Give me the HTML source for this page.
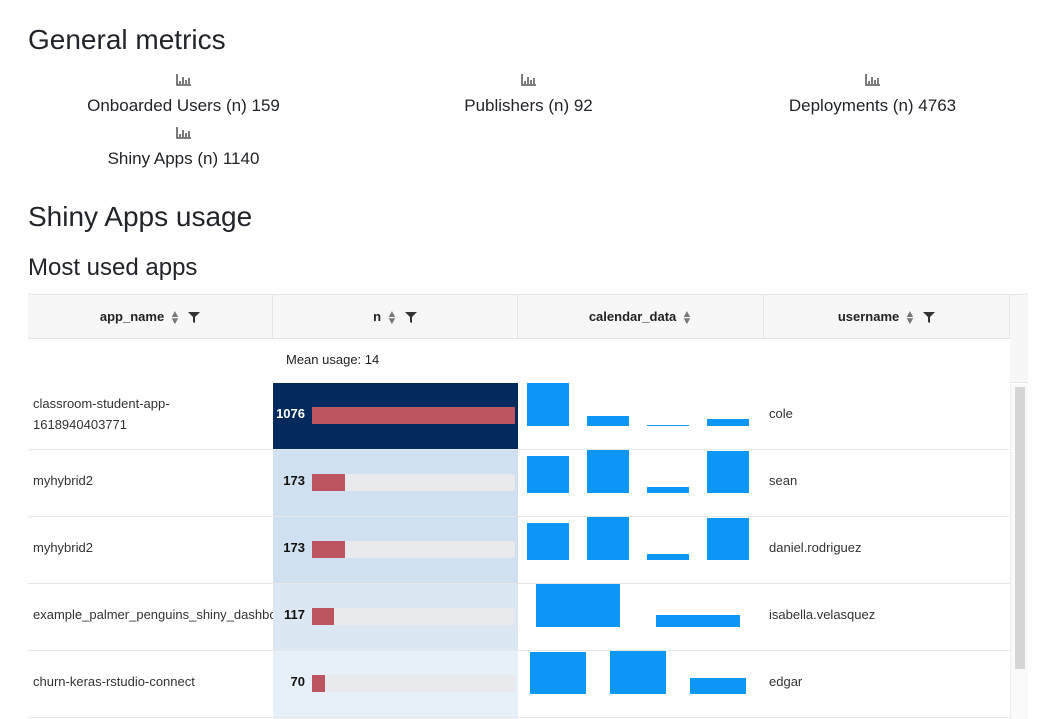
<!DOCTYPE html>
<html style="width:1047px;height:719px;overflow:hidden"><head><meta charset="utf-8"><style>
body{margin:0;width:1047px;height:719px;overflow:hidden;background:#fff;font-family:"Liberation Sans",Arial,sans-serif;color:#212529;position:relative}
.abs{position:absolute}
h1,h2,h3{margin:0;font-weight:500;position:absolute;white-space:nowrap}
.metric{position:absolute;width:333px;text-align:center;font-size:17px}
.ico{font-size:12px;height:14px}
.hd{position:absolute;top:295px;height:43px;line-height:43px;text-align:center;font-weight:bold;font-size:13px;color:#222;background:#f7f7f7;border-right:1px solid #e5e5e5;box-sizing:border-box}
.arr{font-size:10px;color:#777;margin-left:6px;display:inline-block;line-height:7px;vertical-align:middle;transform:scaleX(1.1)}
.flt{display:inline-block;margin-left:8px;vertical-align:middle}
</style></head><body>
<div style="position:absolute;left:0;top:0;width:1047px;height:719px;overflow:hidden">
<h1 style="left:28px;top:24px;font-size:28px">General metrics</h1>
<div class="metric" style="left:17px;top:73px"><div class="ico"><svg width="16" height="13"><path d="M1 1V12H15M4 11V8M7 11V4M10 11V7M13 11V5" stroke="#333" stroke-width="1.3" fill="none"/></svg></div><div style="margin-top:9px">Onboarded Users (n) 159</div></div>
<div class="metric" style="left:362px;top:73px"><div class="ico"><svg width="16" height="13"><path d="M1 1V12H15M4 11V8M7 11V4M10 11V7M13 11V5" stroke="#333" stroke-width="1.3" fill="none"/></svg></div><div style="margin-top:9px">Publishers (n) 92</div></div>
<div class="metric" style="left:706px;top:73px"><div class="ico"><svg width="16" height="13"><path d="M1 1V12H15M4 11V8M7 11V4M10 11V7M13 11V5" stroke="#333" stroke-width="1.3" fill="none"/></svg></div><div style="margin-top:9px">Deployments (n) 4763</div></div>
<div class="metric" style="left:17px;top:126px"><div class="ico"><svg width="16" height="13"><path d="M1 1V12H15M4 11V8M7 11V4M10 11V7M13 11V5" stroke="#333" stroke-width="1.3" fill="none"/></svg></div><div style="margin-top:9px">Shiny Apps (n) 1140</div></div>
<h1 style="left:28px;top:201px;font-size:28px">Shiny Apps usage</h1>
<h2 style="left:28px;top:254px;font-size:24px">Most used apps</h2>

<div class="abs" style="left:28px;top:294px;width:1000px;height:425px;border-top:1px solid #e5e5e5;border-right:1px solid #e5e5e5;box-sizing:border-box"></div>
<div class="hd" style="left:28px;width:245px">app_name<span class="arr">▲<br>▼</span><svg class="flt" width="12" height="11"><path d="M0 0H12L7 5V11L5 10V5Z" fill="#333"/></svg></div>
<div class="hd" style="left:273px;width:245px">n<span class="arr">▲<br>▼</span><svg class="flt" width="12" height="11"><path d="M0 0H12L7 5V11L5 10V5Z" fill="#333"/></svg></div>
<div class="hd" style="left:518px;width:246px">calendar_data<span class="arr">▲<br>▼</span></div>
<div class="hd" style="left:764px;width:246px">username<span class="arr">▲<br>▼</span><svg class="flt" width="12" height="11"><path d="M0 0H12L7 5V11L5 10V5Z" fill="#333"/></svg></div>
<div class="abs" style="left:1010px;top:295px;width:18px;height:88px;background:#f7f7f7;border-bottom:1px solid #e5e5e5;box-sizing:border-box"></div>
<div class="abs" style="left:28px;top:338px;width:982px;height:1px;background:#e5e5e5"></div>
<div class="abs" style="left:286px;top:352px;font-size:13px;color:#222">Mean usage: 14</div>
<div class="abs" style="left:1010px;top:384px;width:18px;height:335px;background:#fafafa;border-left:1px solid #eee;box-sizing:border-box"></div>
<div class="abs" style="left:1015px;top:387px;width:10px;height:282px;background:#d6d6d6"></div>
<div class="abs" style="left:273px;top:717px;width:245px;height:2px;background:#edf4fb"></div>
<div id="rows"></div>
</div>
<script>
const appNames=["classroom-student-app-<br>1618940403771","myhybrid2","myhybrid2","example_palmer_penguins_shiny_dashboard","churn-keras-rstudio-connect"];
const nValues=[1076,173,173,117,70];
const usernames=["cole","sean","daniel.rodriguez","isabella.velasquez","edgar"];
const cal0=[43,10,0.5,7];
const cal1=[38,44,6,43];
const cal2=[38,44,6,43];
const cal3=[44,12];
const cal4=[43,44,16];
const calendars=[cal0,cal1,cal2,cal3,cal4];
const nMax=1076;
const rowTop=383,rowH=67;
const bgs=["#022a5c","#cfe0f1","#cfe0f1","#dbe8f4","#e6f0f9"];
const root=document.getElementById('rows');
function mk(tag,css,parent){const e=document.createElement(tag);e.style.cssText=css;(parent||root).appendChild(e);return e;}
nValues.forEach((n,i)=>{
  const y=rowTop+i*rowH;
  const line=mk('div',`position:absolute;left:28px;top:${y+rowH-1}px;width:982px;height:1px;background:#e8e8e8`);
  
  
  const a=mk('div',`position:absolute;left:33px;top:${y-3}px;width:240px;height:${rowH}px;overflow:hidden;white-space:nowrap;line-height:21px;font-size:13px;color:#333;display:flex;align-items:center`);
  a.innerHTML=appNames[i];
  
  
  const nc=mk('div',`position:absolute;left:273px;top:${y}px;width:245px;height:${rowH-1}px;background:${bgs[i]}`);
  
  
  const lbl=mk('div',`position:absolute;right:213px;top:${rowH/2-11}px;font-weight:bold;font-size:13px;color:${i==0?'#fff':'#111'}`,nc);
  lbl.textContent=n;
  
  
  const tr=mk('div',`position:absolute;left:39px;top:${rowH/2-10}px;width:203px;height:17px;background:#e8eaee`,nc);
  
  
  const b=mk('div',`position:absolute;left:0;top:0;height:17px;width:${n/nMax*203}px;background:#bc5560`,tr);
  
  
  const cal=calendars[i];const mx=Math.max(...cal);const step=240/cal.length;
  const base=y+43;
  cal.forEach((v,j)=>{
    const h=Math.max(1,v/mx*43);
    const r=mk('div',`position:absolute;left:${517.5+step*j+0.15*step}px;top:${base-h}px;width:${0.7*step}px;height:${h}px;background:#0e96f4`);
    
    
  });
  const u=mk('div',`position:absolute;left:769px;top:${y+rowH/2-11}px;font-size:13px;color:#333`);
  u.textContent=usernames[i];
  
  
});
</script>
</body></html>
